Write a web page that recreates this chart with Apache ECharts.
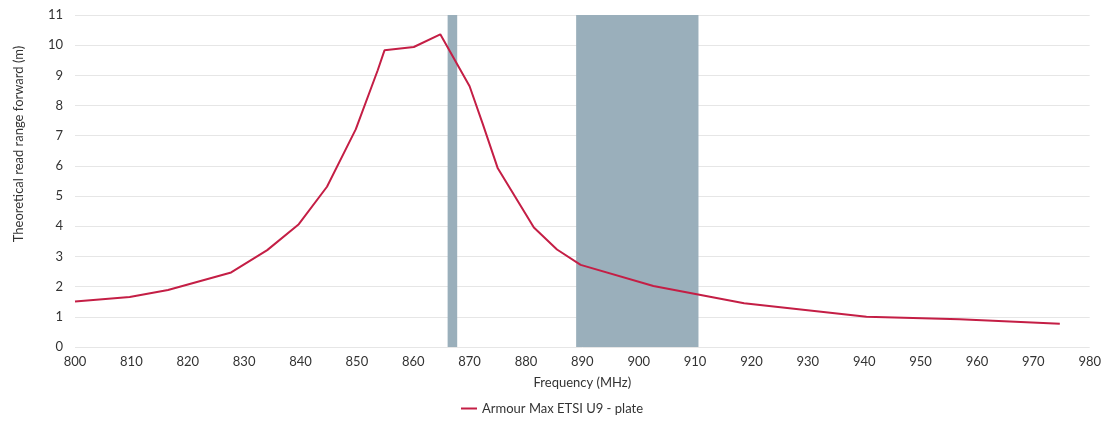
<!DOCTYPE html>
<html>
<head>
<meta charset="utf-8">
<script src="https://cdn.jsdelivr.net/npm/echarts@6/dist/echarts.min.js"></script>
<style>html,body{margin:0;padding:0;background:#fff}#c{width:1104px;height:421px}</style>
</head>
<body>
<div id="c"></div>
<script>
const seriesName = 'Armour Max ETSI U9 - plate';
const yAxisTitle = 'Theoretical read range forward (m)';
const xAxisTitle = 'Frequency (MHz)';
const freq = [800, 809.7, 816.5, 827.7, 834.1, 839.7, 844.7, 849.8, 853.7, 854.9, 860.1, 864.8, 870, 872.3, 875, 881.4, 885.5, 889.7, 902.6, 918.7, 940.4, 956.9, 974.7];
const range = [1.51, 1.66, 1.89, 2.47, 3.21, 4.07, 5.31, 7.21, 9.17, 9.83, 9.94, 10.36, 8.64, 7.41, 5.92, 3.96, 3.23, 2.72, 2.02, 1.45, 1.00, 0.92, 0.77];
const bands = [[866.1, 867.8], [888.9, 910.6]];

const font = 'Lato, "Noto Sans", sans-serif';
const chart = echarts.init(document.getElementById('c'));
chart.setOption({
  animation: false,
  textStyle: {fontFamily: font},
  grid: {left: 75, right: 10, top: 15, bottom: 74},
  graphic: [{
    type: 'text', x: 12, y: 144, rotation: Math.PI / 2,
    style: {text: yAxisTitle, font: '13px ' + font, fill: '#333', align: 'center', verticalAlign: 'top'}
  }],
  legend: {
    bottom: 1, left: 'center',
    data: [seriesName],
    itemWidth: 16, itemHeight: 2, itemGap: 10,
    icon: 'rect',
    textStyle: {fontFamily: font, fontSize: 13, color: '#333'}
  },
  xAxis: {
    type: 'value', min: 800, max: 980, interval: 10,
    name: xAxisTitle, nameLocation: 'middle', nameGap: 29,
    nameTextStyle: {fontFamily: font, fontSize: 13, color: '#333'},
    axisLine: {show: false}, axisTick: {show: false},
    axisLabel: {fontFamily: font, fontSize: 13, color: '#333', margin: 8},
    splitLine: {show: false}
  },
  yAxis: {
    type: 'value', min: 0, max: 11, interval: 1,
    axisLine: {show: false}, axisTick: {show: false},
    axisLabel: {fontFamily: font, fontSize: 13, color: '#333', margin: 12},
    splitLine: {lineStyle: {color: '#e6e6e6', width: 1}}
  },
  series: [
    {
      type: 'line', name: 'bands', data: [], z: -1, silent: true,
      markArea: {
        silent: true,
        itemStyle: {color: '#9aafbb'},
        data: bands.map(b => [{xAxis: b[0]}, {xAxis: b[1]}])
      }
    },
    {
      type: 'line', name: seriesName,
      data: freq.map((f, i) => [f, range[i]]),
      symbol: 'none',
      lineStyle: {color: '#c41e45', width: 2},
      itemStyle: {color: '#c41e45'}
    }
  ]
});
</script>
</body>
</html>
